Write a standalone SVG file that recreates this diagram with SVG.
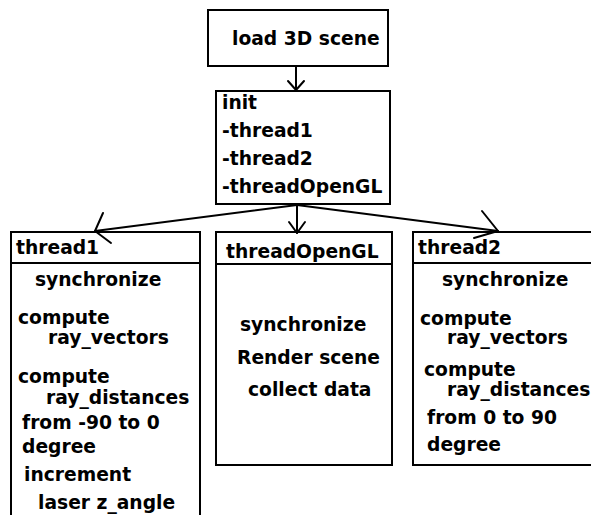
<svg xmlns="http://www.w3.org/2000/svg" width="591" height="515" viewBox="0 0 591 515">
  <style>
    .box { fill: #ffffff; stroke: #000000; stroke-width: 2; }
    .sep { stroke: #000000; stroke-width: 2; }
    .wire { fill: none; stroke: #000000; stroke-width: 2; stroke-linecap: round; stroke-linejoin: round; }
    text { font-family: "DejaVu Sans", "Liberation Sans", sans-serif; font-weight: bold; font-size: 18.7px; fill: #000000; }
  </style>
  <rect width="591" height="515" fill="#ffffff"/>

  <g id="load-scene">
    <rect class="box" x="208" y="10" width="180" height="56"/>
    <text x="232" y="45">load 3D scene</text>
  </g>

  <g id="init">
    <rect class="box" x="216" y="91" width="174" height="113"/>
    <text x="222" y="109">init</text>
    <text x="222" y="137">-thread1</text>
    <text x="222" y="165">-thread2</text>
    <text x="222" y="193">-threadOpenGL</text>
  </g>

  <g id="thread1">
    <rect class="box" x="11" y="232" width="189" height="300"/>
    <line class="sep" x1="11" y1="263" x2="200" y2="263"/>
    <text x="16" y="254">thread1</text>
    <text x="35" y="286">synchronize</text>
    <text x="18" y="324">compute</text>
    <text x="48" y="344">ray_vectors</text>
    <text x="18" y="383">compute</text>
    <text x="46" y="404">ray_distances</text>
    <text x="22" y="429">from -90 to 0</text>
    <text x="22" y="453">degree</text>
    <text x="24" y="481">increment</text>
    <text x="38" y="509">laser z_angle</text>
  </g>

  <g id="threadOpenGL">
    <rect class="box" x="216" y="232" width="176" height="233"/>
    <line class="sep" x1="216" y1="264" x2="392" y2="264"/>
    <text x="226" y="258">threadOpenGL</text>
    <text x="240" y="331">synchronize</text>
    <text x="237" y="364">Render scene</text>
    <text x="248" y="396">collect data</text>
  </g>

  <g id="thread2">
    <rect class="box" x="413" y="232" width="200" height="233"/>
    <line class="sep" x1="413" y1="263" x2="591" y2="263"/>
    <text x="418" y="254">thread2</text>
    <text x="442" y="286">synchronize</text>
    <text x="420" y="325">compute</text>
    <text x="447" y="344">ray_vectors</text>
    <text x="424" y="376">compute</text>
    <text x="447" y="396">ray_distances</text>
    <text x="427" y="424">from 0 to 90</text>
    <text x="427" y="451">degree</text>
  </g>

  <g id="connectors">
    <!-- load 3D scene to init -->
    <line class="wire" x1="296" y1="66" x2="296" y2="90"/>
    <polyline class="wire" points="288,81 296,90 304,81"/>
    <!-- init to thread1 -->
    <line class="wire" x1="297" y1="205" x2="95" y2="231"/>
    <polyline class="wire" points="103,213 95,231 111,243"/>
    <!-- init to threadOpenGL -->
    <line class="wire" x1="297" y1="205" x2="297" y2="233"/>
    <polyline class="wire" points="289,222 297,233 305,222"/>
    <!-- init to thread2 -->
    <line class="wire" x1="297" y1="205" x2="498" y2="231"/>
    <polyline class="wire" points="482,211 498,231 474,238"/>
  </g>
</svg>
